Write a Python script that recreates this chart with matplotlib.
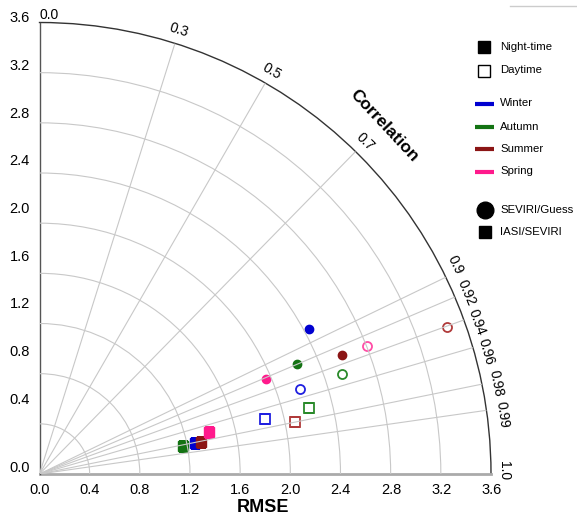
import numpy as np
import matplotlib
matplotlib.use('Agg')
import matplotlib.pyplot as plt

plt.rcParams['font.family'] = ['Liberation Sans', 'DejaVu Sans']

# ---------------- data ----------------
seasons = ['Winter', 'Autumn', 'Summer', 'Spring']
season_colors = ['#0000d0', '#137313', '#8b1515', '#ff1a8c']
open_colors = ['#2020e0', '#2a8a2a', '#b03a3a', '#ff4da6']

# SEVIRI/Guess (circles): standard deviation and correlation
sg_night_std = [2.438, 2.230, 2.595, 1.955]
sg_night_corr = [0.881, 0.920, 0.931, 0.922]
sg_day_std = [2.188, 2.542, 3.457, 2.801]
sg_day_corr = [0.951, 0.950, 0.941, 0.931]
# IASI/SEVIRI (squares)
is_night_std = [1.261, 1.163, 1.314, 1.393]
is_night_corr = [0.981, 0.981, 0.981, 0.971]
is_day_std = [1.848, 2.209, 2.077, np.nan]
is_day_corr = [0.971, 0.971, 0.980, np.nan]

std_ticks = [0.0, 0.4, 0.8, 1.2, 1.6, 2.0, 2.4, 2.8, 3.2, 3.6]
corr_ticks = [0.0, 0.3, 0.5, 0.7, 0.9, 0.92, 0.94, 0.96, 0.98, 0.99, 1.0]
corr_labels = ['0.0', '0.3', '0.5', '0.7', '0.9', '0.92', '0.94', '0.96', '0.98', '0.99', '1.0']
rmax = 3.6

legend_labels = ['Night-time', 'Daytime', 'Winter', 'Autumn', 'Summer', 'Spring',
                 'SEVIRI/Guess', 'IASI/SEVIRI']

# ---------------- figure ----------------
W, H = 577, 516
fig = plt.figure(figsize=(W / 100, H / 100), dpi=100)

ox, oy, rpx = 39.5, 474.0, 451.5
ax = fig.add_axes([ox / W, (H - oy) / H, rpx / W, rpx / H], projection='polar')
ax.set_thetamin(0)
ax.set_thetamax(90)
ax.set_ylim(0, rmax)
ax.set_rgrids(std_ticks[1:-1])
ax.set_thetagrids(np.degrees(np.arccos(corr_ticks[1:-1])))
ax.set_xticklabels([])
ax.set_yticklabels([])
ax.grid(True, color='#c8c8c8', lw=0.8)
ax.set_axisbelow(False)
ax.tick_params(axis='x', length=3, color='#444444')
ax.tick_params(axis='y', length=3, color='#777777')
ax.spines['polar'].set(color='#333333', lw=1.0)
ax.spines['start'].set(color='#aaaaaa', lw=2.0)
ax.spines['end'].set(color='#555555', lw=1.0)

# ---------------- overlay (text & legend) ----------------
ov = fig.add_axes([0, 0, 1, 1])
ov.set_xlim(0, W)
ov.set_ylim(H, 0)
ov.axis('off')

# correlation labels: radial placement for the sparse ones, spread for the dense ones
dense_pos = {0.9: (455, 265), 0.92: (466.5, 292.5), 0.94: (477, 322),
             0.96: (486, 352), 0.98: (496, 383.5), 0.99: (502, 414.5), 1.0: (504, 471)}
for c, lab in zip(corr_ticks, corr_labels):
    th = np.arccos(c)
    deg = np.degrees(th)
    if c == 0.0:
        ax.text(th, rmax + 8 / 125.5, lab, rotation=0, rotation_mode='anchor',
                ha='left', va='center', fontsize=10, clip_on=False)
    elif c in dense_pos:
        px, py = dense_pos[c]
        ov.text(px, py, lab, rotation=deg - 90, rotation_mode='anchor',
                ha='center', va='center', fontsize=10)
    else:
        ax.text(th, rmax + 14 / 125.5, lab, rotation=deg - 90, rotation_mode='anchor',
                ha='center', va='center', fontsize=10, clip_on=False)

# data markers
order = [1, 0, 2, 3]
for i in order:
    ax.plot(np.arccos(is_night_corr[i]), is_night_std[i], 's', ms=6.5,
            color=season_colors[i], mec=season_colors[i], zorder=2)
for i in order:
    if not np.isnan(is_day_std[i]):
        ax.plot(np.arccos(is_day_corr[i]), is_day_std[i], 's', ms=6.5, mfc='white',
                mec=open_colors[i], mew=1.3, zorder=2)
for i in order:
    ax.plot(np.arccos(sg_night_corr[i]), sg_night_std[i], 'o', ms=6,
            color=season_colors[i], zorder=2)
    ax.plot(np.arccos(sg_day_corr[i]), sg_day_std[i], 'o', ms=6.5, mfc='white',
            mec=open_colors[i], mew=1.3, zorder=2)

# left axis labels (as drawn in the original)
for v in std_ticks:
    if v == 0.0:
        y = 468
    else:
        y = 400 - (v - 0.4) / 3.2 * 382
    ov.text(30, y, f'{v:.1f}', ha='right', va='center', fontsize=10.5)
# bottom axis labels
for v in std_ticks:
    ov.text(ox + v * 125.5, 490, f'{v:.1f}', ha='center', va='center', fontsize=10.5)

ov.text(263, 507, 'RMSE', ha='center', va='center', fontsize=13, fontweight='bold')
ov.text(384, 126, 'Correlation', ha='center', va='center', fontsize=12.5,
        fontweight='bold', rotation=-47)

# legend
lx, tx = 484, 500
ov.plot([lx], [47], 's', ms=8, color='black')
ov.text(tx, 47, legend_labels[0], va='center', fontsize=8.2)
ov.plot([lx], [71], 's', ms=8, mfc='white', mec='black', mew=1.0)
ov.text(tx, 70, legend_labels[1], va='center', fontsize=8.2)
for k, yy in enumerate([103.5, 127, 148.5, 171.5]):
    ov.plot([475, 494], [yy, yy], color=season_colors[k], lw=3, solid_capstyle='butt')
    ov.text(tx, yy, legend_labels[2 + k], va='center', fontsize=8.2)
ov.plot([485], [210], 'o', ms=12, color='black')
ov.text(tx, 210, legend_labels[6], va='center', fontsize=8.2)
ov.plot([485], [232], 's', ms=8, color='black')
ov.text(tx, 232, legend_labels[7], va='center', fontsize=8.2)
ov.plot([510, 577], [6, 6], color='#cccccc', lw=1)

fig.savefig('out.png', dpi=100)
